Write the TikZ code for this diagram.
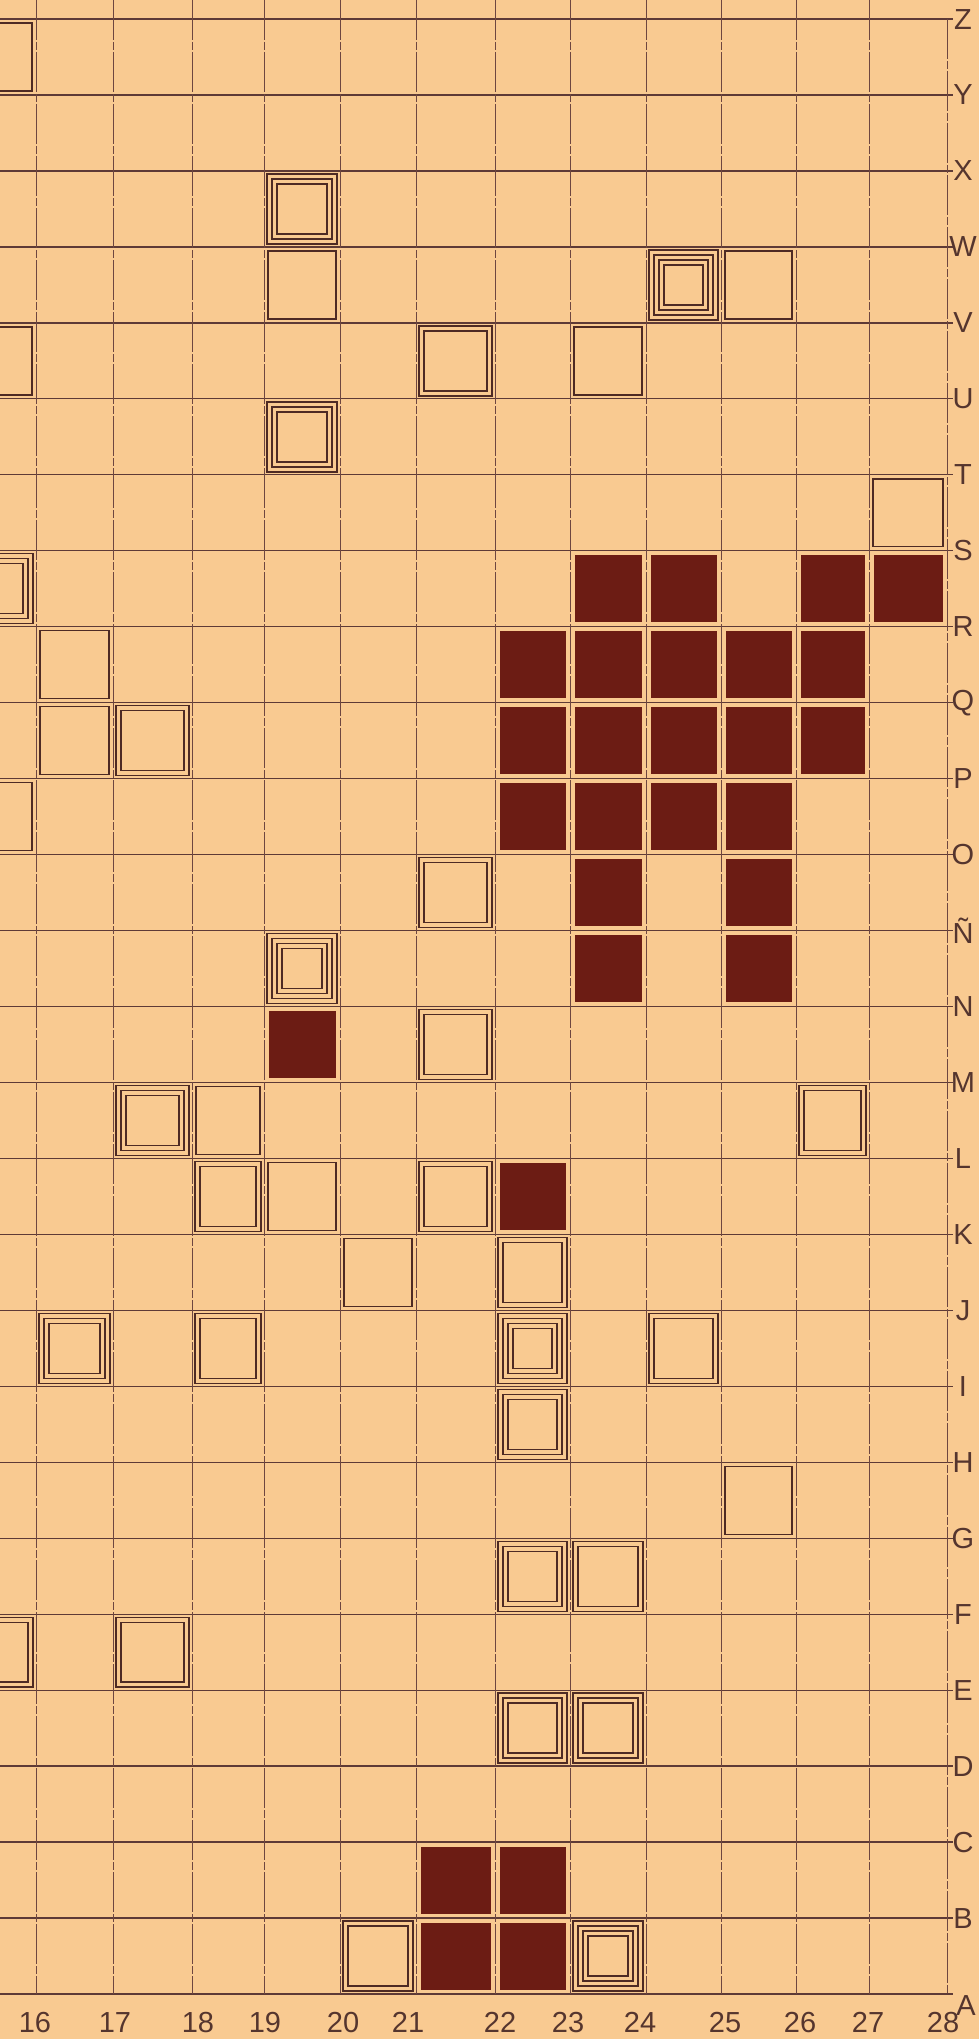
\documentclass[tikz,border=0pt]{standalone}
\usepackage{fontspec}
\setmainfont{Liberation Sans}
\definecolor{paper}{HTML}{F9CA91}
\definecolor{gridh}{HTML}{5E3A36}
\definecolor{gridv}{HTML}{6E4640}
\definecolor{ink}{HTML}{4E2A24}
\definecolor{fillred}{HTML}{6C1C14}
\definecolor{labelc}{HTML}{55352E}
\tikzset{
  hline/.style={draw=gridh, line width=1.3pt},
  vline/.style={draw=gridv, line width=1.0pt, dash pattern=on 40pt off 2pt on 8pt off 2pt},
  box/.style={draw=ink, line width=1.4pt},
  solidbox/.style={fill=fillred},
  lab/.style={font=\fontsize{29}{29}\selectfont, text=labelc, inner sep=0pt},
}
\def\colx{{-40,36,113,192,264,340,416,495,570,646,721,796,869,947}}
\newcommand\cellbox[3]{%
  \pgfmathsetmacro\xa{\colx[#1-15]}%
  \pgfmathsetmacro\xb{\colx[#1-14]}%
  \pgfmathsetmacro\yb{1994-75.96*#2}%
  \pgfmathsetmacro\ya{\yb-75.96}%
  \ifnum#3=1
    \draw[box] (\xa+4,\ya+4) rectangle (\xb-4,\yb-4);
  \else
    \foreach \k in {1,...,#3}{%
      \pgfmathsetmacro\ins{3+5*(\k-1)}%
      \draw[box] (\xa+\ins,\ya+\ins) rectangle (\xb-\ins,\yb-\ins);}
  \fi}
\newcommand\cellfill[2]{%
  \pgfmathsetmacro\xa{\colx[#1-15]}%
  \pgfmathsetmacro\xb{\colx[#1-14]}%
  \pgfmathsetmacro\yb{1994-75.96*#2}%
  \pgfmathsetmacro\ya{\yb-75.96}%
  \fill[solidbox] (\xa+4.5,\ya+4.5) rectangle (\xb-4.5,\yb-4.5);}
\begin{document}
\begin{tikzpicture}[x=1pt,y=-1pt]
\useasboundingbox (0,0) rectangle (979,2039);
\fill[paper] (0,0) rectangle (979,2039);
\begin{scope}
\clip (0,0) rectangle (979,2039);
% horizontal grid lines (A=0 ... Z=26)
\foreach \r in {0,...,26}{
  \draw[hline] (0,{1994-75.96*\r}) -- (953,{1994-75.96*\r});
}
% vertical grid lines
\foreach \x in {36,113,192,264,340,416,495,570,646,721,796,869}{
  \draw[vline] (\x,0) -- (\x,1994);
}
\draw[vline] (947,19) -- (947,1994);
% outlined squares: column, row, number of outlines
\cellbox{15}{25}{1}
\cellbox{19}{23}{3}
\cellbox{19}{22}{1}
\cellbox{24}{22}{4}
\cellbox{25}{22}{1}
\cellbox{15}{21}{1}
\cellbox{21}{21}{2}
\cellbox{23}{21}{1}
\cellbox{19}{20}{3}
\cellbox{27}{19}{1}
\cellbox{15}{18}{3}
\cellbox{16}{17}{1}
\cellbox{16}{16}{1}
\cellbox{17}{16}{2}
\cellbox{15}{15}{1}
\cellbox{21}{14}{2}
\cellbox{19}{13}{4}
\cellbox{21}{12}{2}
\cellbox{17}{11}{3}
\cellbox{18}{11}{1}
\cellbox{26}{11}{2}
\cellbox{18}{10}{2}
\cellbox{19}{10}{1}
\cellbox{21}{10}{2}
\cellbox{20}{9}{1}
\cellbox{22}{9}{2}
\cellbox{16}{8}{3}
\cellbox{18}{8}{2}
\cellbox{22}{8}{4}
\cellbox{24}{8}{2}
\cellbox{22}{7}{3}
\cellbox{25}{6}{1}
\cellbox{22}{5}{3}
\cellbox{23}{5}{2}
\cellbox{15}{4}{2}
\cellbox{17}{4}{2}
\cellbox{22}{3}{3}
\cellbox{23}{3}{3}
\cellbox{20}{0}{2}
\cellbox{23}{0}{4}
% filled squares
\foreach \c in {23,24,26,27}{\cellfill{\c}{18}}
\foreach \c in {22,...,26}{\cellfill{\c}{17}}
\foreach \c in {22,...,26}{\cellfill{\c}{16}}
\foreach \c in {22,...,25}{\cellfill{\c}{15}}
\foreach \c in {23,25}{\cellfill{\c}{14}}
\foreach \c in {23,25}{\cellfill{\c}{13}}
\cellfill{19}{12}
\cellfill{22}{10}
\foreach \c in {21,22}{\cellfill{\c}{1}}
\foreach \c in {21,22}{\cellfill{\c}{0}}
\end{scope}
% column labels
\foreach \n/\x in {16/35,17/115,18/198,19/265,20/343,21/408,22/500,23/568,24/640,25/725,26/800,27/868,28/943}{
  \node[lab, anchor=base] (col\n) at (\x,2032) {\n};
}
% row labels
\foreach \l/\r/\nm in {B/1/B,C/2/C,D/3/D,E/4/E,F/5/F,G/6/G,H/7/H,I/8/I,J/9/J,K/10/K,L/11/L,M/12/M,N/13/N,Ñ/14/NN,O/15/O,P/16/P,Q/17/Q,R/18/R,S/19/S,T/20/T,U/21/U,V/22/V,W/23/W,X/24/X,Y/25/Y,Z/26/Z}{
  \node[lab, anchor=center] (row\nm) at (963,{1994-75.96*\r}) {\l};
}
\node[lab, anchor=center] (rowA) at (966,2005) {A};
\end{tikzpicture}
\end{document}
